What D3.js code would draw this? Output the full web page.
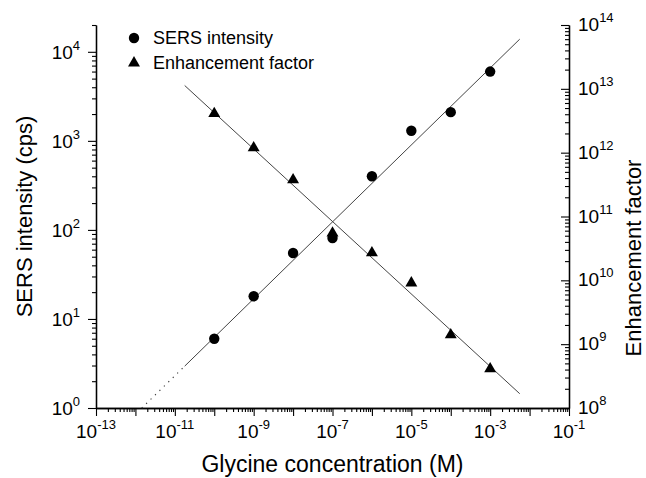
<!DOCTYPE html>
<html>
<head>
<meta charset="utf-8">
<script src="https://cdn.jsdelivr.net/npm/d3@7"></script>
<style>
  html, body { margin: 0; padding: 0; background: #fff; }
  svg { display: block; font-family: "Liberation Sans", Arial, sans-serif; }
</style>
</head>
<body>
<svg id="chart" width="646" height="478"></svg>
<script>
// Glycine concentrations (M) at which spectra were recorded
const concentrations = [1e-10, 1e-9, 1e-8, 1e-7, 1e-6, 1e-5, 1e-4, 1e-3];
// SERS intensity (cps), left axis
const sersIntensity = [6, 18, 55, 81, 400, 1300, 2100, 6000];
// Enhancement factor, right axis
const enhancementFactor = [4.1e12, 1.19e12, 3.75e11, 5.5e10, 2.7e10, 9.1e9, 1.4e9, 4.1e8];

// Linear fits in log-log space: log10(y) = intercept + slope * log10(x)
const sersFit = { intercept: 5.114, slope: 0.432 };
const efFit = { intercept: 6.946, slope: -0.568 };
// log10 range of the fitted (solid) lines and the start of the extrapolated part
const fitLogRange = [-10.75, -2.25];
const sersExtrapolationStart = -11.84;

// Axis domains and labelled ticks
const xDomain = [1e-13, 1e-1];
const yLeftDomain = [1, 2e4];
const yRightDomain = [1e8, 1e14];
const xLabelExponents = [-13, -11, -9, -7, -5, -3, -1];
const yLeftLabelExponents = [0, 1, 2, 3, 4];
const yRightLabelExponents = [8, 9, 10, 11, 12, 13, 14];

const legendItems = ["SERS intensity", "Enhancement factor"];
const xTitle = "Glycine concentration (M)";
const yLeftTitle = "SERS intensity (cps)";
const yRightTitle = "Enhancement factor";

const svg = d3.select("#chart");
const plot = { left: 96, right: 569, top: 25, bottom: 408 };

const x = d3.scaleLog().domain(xDomain).range([plot.left, plot.right]);
const yL = d3.scaleLog().domain(yLeftDomain).range([plot.bottom, plot.top]);
const yR = d3.scaleLog().domain(yRightDomain).range([plot.bottom, plot.top]);

// all ticks of a log scale, split into decades and in-between ones
function logTicks(domain) {
  const lo = Math.floor(Math.log10(domain[0]) + 1e-9);
  const hi = Math.ceil(Math.log10(domain[1]) - 1e-9);
  const major = [], minor = [];
  for (let e = lo; e <= hi; e++) {
    const base = Math.pow(10, e);
    if (base >= domain[0] * 0.999 && base <= domain[1] * 1.001) major.push(base);
    for (let m = 2; m <= 9; m++) {
      const v = m * base;
      if (v >= domain[0] * 0.999 && v <= domain[1] * 1.001) minor.push(v);
    }
  }
  return { major, minor };
}

const axisStroke = 1.3;
function styleAxis(g) {
  g.selectAll("path.domain").attr("stroke", "#000").attr("stroke-width", axisStroke);
  g.selectAll(".tick line").attr("stroke", "#000").attr("stroke-width", 1.1);
  g.selectAll(".tick text").remove();
}

// ---- bottom axis ----
const xt = logTicks(xDomain);
svg.append("g").attr("transform", `translate(0,${plot.bottom})`)
  .call(d3.axisBottom(x).tickValues(xt.minor).tickSize(4).tickSizeOuter(0))
  .call(styleAxis);
svg.append("g").attr("transform", `translate(0,${plot.bottom})`)
  .call(d3.axisBottom(x).tickValues(xt.major).tickSize(8).tickSizeOuter(0))
  .call(styleAxis);

// ---- left axis ----
const ylt = logTicks(yLeftDomain);
svg.append("g").attr("transform", `translate(${plot.left},0)`)
  .call(d3.axisLeft(yL).tickValues(ylt.minor).tickSize(4).tickSizeOuter(0))
  .call(styleAxis);
svg.append("g").attr("transform", `translate(${plot.left},0)`)
  .call(d3.axisLeft(yL).tickValues(ylt.major).tickSize(8).tickSizeOuter(0))
  .call(styleAxis);

// ---- right axis (ticks point into the plot) ----
const yrt = logTicks(yRightDomain);
svg.append("g").attr("transform", `translate(${plot.right},0)`)
  .call(d3.axisLeft(yR).tickValues(yrt.minor).tickSize(4).tickSizeOuter(0))
  .call(styleAxis);
svg.append("g").attr("transform", `translate(${plot.right},0)`)
  .call(d3.axisLeft(yR).tickValues(yrt.major).tickSize(8).tickSizeOuter(0))
  .call(styleAxis);

// power-of-ten labels with superscript exponents
function powerLabel(sel, exp) {
  sel.append("tspan").attr("font-size", 19).text("10");
  sel.append("tspan").attr("font-size", 13).attr("dy", -9).text(exp);
}

const labels = svg.append("g").attr("fill", "#000");
xLabelExponents.forEach(e => {
  const t = labels.append("text").attr("x", x(Math.pow(10, e))).attr("y", 438)
    .attr("text-anchor", "middle");
  powerLabel(t, e);
});
yLeftLabelExponents.forEach(e => {
  const t = labels.append("text").attr("x", 80).attr("y", yL(Math.pow(10, e)) + 7)
    .attr("text-anchor", "end");
  powerLabel(t, e);
});
yRightLabelExponents.forEach(e => {
  const t = labels.append("text").attr("x", 578).attr("y", yR(Math.pow(10, e)) + 6)
    .attr("text-anchor", "start");
  powerLabel(t, e);
});

// ---- axis titles ----
svg.append("text").attr("x", (plot.left + plot.right) / 2).attr("y", 472)
  .attr("text-anchor", "middle").attr("font-size", 23).text(xTitle);
svg.append("text").attr("transform", `translate(32,${(plot.top + plot.bottom) / 2}) rotate(-90)`)
  .attr("text-anchor", "middle").attr("font-size", 22).text(yLeftTitle);
svg.append("text").attr("transform", `translate(641,258) rotate(-90)`)
  .attr("text-anchor", "middle").attr("font-size", 22).text(yRightTitle);

// ---- fitted lines ----
const fitLine = (fit, scale) => d3.line()
  .x(le => x(Math.pow(10, le)))
  .y(le => scale(Math.pow(10, fit.intercept + fit.slope * le)));

svg.append("path")
  .attr("d", fitLine(sersFit, yL)([sersExtrapolationStart, fitLogRange[0]]))
  .attr("fill", "none").attr("stroke", "#333").attr("stroke-width", 1.1)
  .attr("stroke-dasharray", "1.2,5");
svg.append("path")
  .attr("d", fitLine(sersFit, yL)(fitLogRange))
  .attr("fill", "none").attr("stroke", "#444").attr("stroke-width", 1);
svg.append("path")
  .attr("d", fitLine(efFit, yR)(fitLogRange))
  .attr("fill", "none").attr("stroke", "#444").attr("stroke-width", 1);

// ---- markers ----
const triangle = d3.symbol().type(d3.symbolTriangle).size(62);

svg.append("g").selectAll("path")
  .data(concentrations.map((c, i) => [c, enhancementFactor[i]]))
  .join("path")
  .attr("d", triangle)
  .attr("transform", d => `translate(${x(d[0])},${yR(d[1])})`)
  .attr("fill", "#000");

svg.append("g").selectAll("circle")
  .data(concentrations.map((c, i) => [c, sersIntensity[i]]))
  .join("circle")
  .attr("cx", d => x(d[0])).attr("cy", d => yL(d[1])).attr("r", 5.2)
  .attr("fill", "#000");

// ---- legend ----
const legend = svg.append("g");
legend.append("circle").attr("cx", 134).attr("cy", 38).attr("r", 5.2).attr("fill", "#000");
legend.append("path").attr("d", triangle).attr("transform", "translate(134,63)").attr("fill", "#000");
legendItems.forEach((name, i) => {
  legend.append("text").attr("x", 153).attr("y", 44 + i * 25)
    .attr("font-size", 18).text(name);
});
</script>
</body>
</html>
